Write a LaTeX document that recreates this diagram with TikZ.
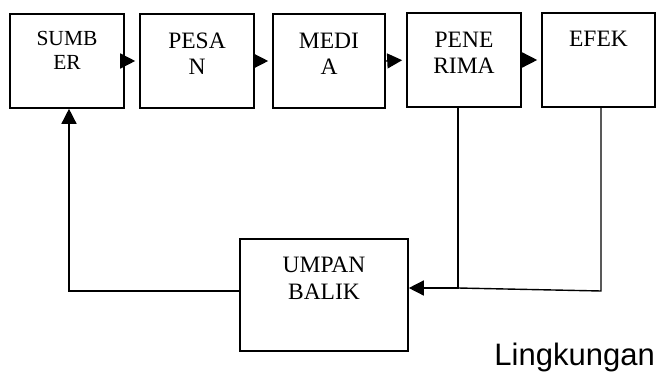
\documentclass[tikz,border=0pt]{standalone}
\usepackage{fontspec}
\setmainfont{Liberation Serif}
\newfontfamily\lingfont{Liberation Sans}
\usetikzlibrary{arrows.meta}

\tikzset{
  box/.style={draw=black, line width=1.6pt, inner xsep=0pt, inner ysep=0pt,
    align=center, font=\fontsize{23.5}{26.5}\selectfont},
  wire/.style={black, line width=1.4pt},
  flow/.style={wire, -{Triangle[length=15pt,width=15pt]}}
}

\begin{document}
\begin{tikzpicture}[x=1pt,y=-1pt]
        \useasboundingbox (0,0) rectangle (658,374);
        \node[box, minimum width=114pt, text height=56pt, text depth=38pt,
              font=\fontsize{21.5}{24}\selectfont] (sumber) at (67,61) {SUMB\\ER};
        \node[box, minimum width=114pt, text height=61pt, text depth=33pt] (pesan) at (197,61) {PESA\\N};
        \node[box, minimum width=112pt, text height=61pt, text depth=33pt] (media) at (329,61) {MEDI\\A};
        \node[box, minimum width=114pt, text height=61pt, text depth=33pt] (penerima) at (464,60) {PENE\\RIMA};
        \node[box, minimum width=113pt, text height=34pt, text depth=60pt] (efek) at (598.5,60) {EFEK};
        \node[box, minimum width=168pt, text height=60pt, text depth=52pt] (umpan) at (324,295) {UMPAN\\BALIK};
        \node[anchor=base east, inner sep=0pt, font=\lingfont\fontsize{31}{37}\selectfont] (ling) at (655,365) {Lingkungan};
        \foreach \a/\b in {sumber/pesan, pesan/media, media/penerima, penerima/efek} {
                \draw[flow, shorten >=4pt] (\a.east) -- (\b.west);
            }
        \coordinate (join) at (458,288);
        \coordinate (corner) at (601,291);
        \coordinate (back) at (69,291);
        \draw[flow] (join |- penerima.south) -- (join) -- (umpan.east |- join);
        \draw[wire] (corner |- efek.south) -- (corner) -- (join);
        \draw[flow] (umpan.west |- back) -- (back) -- (sumber.south -| back);
    \end{tikzpicture}
\end{document}
